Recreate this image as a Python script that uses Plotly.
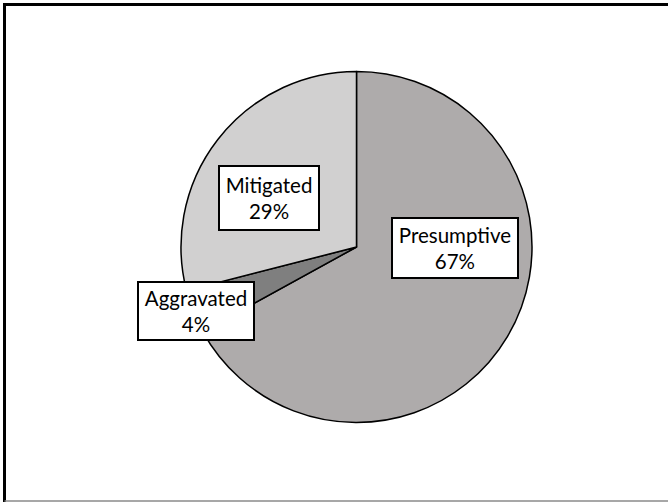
import plotly.graph_objects as go

# Sentencing outcome shares
categories = ["Presumptive", "Aggravated", "Mitigated"]
shares = [67, 4, 29]
slice_colors = ["#AEABAB", "#7F7F7F", "#D1D0D0"]

W, H = 668, 502
cx, cy, r = 356.5, 247.0, 175.5

fig = go.Figure(
    go.Pie(
        labels=categories,
        values=shares,
        sort=False,
        direction="clockwise",
        rotation=0,
        textinfo="none",
        hoverinfo="label+percent",
        marker=dict(colors=slice_colors, line=dict(color="#000000", width=1.5)),
        domain=dict(x=[(cx - r) / W, (cx + r) / W], y=[1 - (cy + r) / H, 1 - (cy - r) / H]),
        showlegend=False,
    )
)

# Boxed data labels (centre x, centre y, width, height in pixels)
label_boxes = {
    "Presumptive": (455, 247.5, 128, 62),
    "Aggravated": (195.5, 311, 118, 60),
    "Mitigated": (269, 198, 102, 66),
}
total = sum(shares)
annotations = []
for name, val in zip(categories, shares):
    bx, by, bw, bh = label_boxes[name]
    annotations.append(
        dict(
            x=bx / W, y=1 - by / H, xref="paper", yref="paper",
            xanchor="center", yanchor="middle",
            text=f"{name}<br>{round(100 * val / total)}%",
            showarrow=False, align="center",
            width=bw - 4, height=bh - 4,
            bgcolor="#FFFFFF", bordercolor="#000000", borderwidth=2, borderpad=0,
            font=dict(family="Lato", size=20.5, color="#000000"),
        )
    )

fig.update_layout(
    width=W, height=H,
    margin=dict(l=0, r=0, t=0, b=0),
    paper_bgcolor="#FFFFFF",
    plot_bgcolor="#FFFFFF",
    annotations=annotations,
    shapes=[
        # outer frame: top and left edges visible, others run off the page
        dict(type="rect", xref="paper", yref="paper",
             x0=4.5 / W, x1=1.1, y0=-0.1, y1=1 - 4.5 / H,
             line=dict(color="#000000", width=3), layer="above"),
        dict(type="line", xref="paper", yref="paper",
             x0=4.5 / W, x1=1.0, y0=1 - 501 / H, y1=1 - 501 / H,
             line=dict(color="#8A8A8A", width=1.5), layer="above"),
    ],
)

fig.write_html("out.html")
